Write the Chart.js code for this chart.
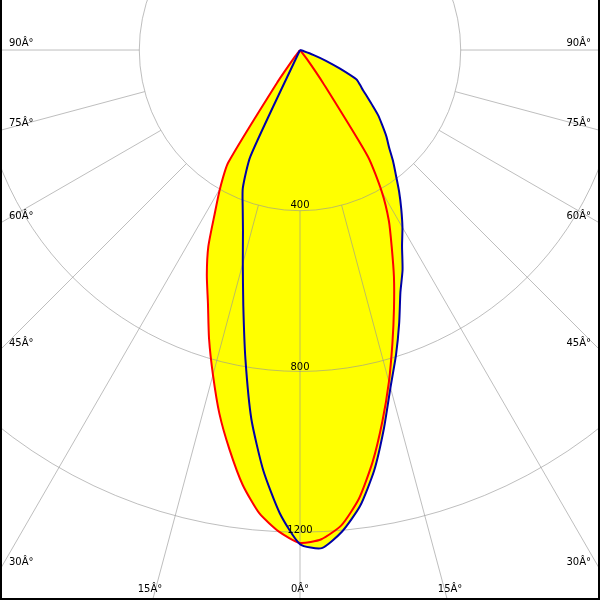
<!DOCTYPE html>
<html><head><meta charset="utf-8">
<script src="https://cdn.jsdelivr.net/npm/chart.js@4/dist/chart.umd.min.js"></script>
<style>html,body{margin:0;padding:0;background:#fff;}canvas{display:block;}</style>
</head><body><canvas id="c" width="600" height="600"></canvas>
<script>
// gamma angles (degrees) shared by all half-planes
const gammaAngles = [0,2.5,5,7.5,10,12.5,15,17.5,20,22.5,25,27.5,30,32.5,35,37.5,40,42.5,45,47.5,50,52.5,55,57.5,60,62.5,65,67.5,70,72.5,75,77.5,80,82.5,85,87.5,90];
// red curve (C180 left half, C0 right half), cd/klm
const redLeft  = [1227,1200,1158,1092,1010,927,837,753,670,606,540,460,398,333,100,20,0,0,0,0,0,0,0,0,0,0,0,0,0,0,0,0,0,0,0,0,0];
const redRight = [1227,1219,1187,1126,1041,947,855,765,684,611,540,479,407,315,100,30,0,0,0,0,0,0,0,0,0,0,0,0,0,0,0,0,0,0,0,0,0];
// blue curve (C270 left half, C90 right half)
const blueLeft  = [1230,1154,1050,927,782,652,550,472,417,372,292,0,0,0,0,0,0,0,0,0,0,0,0,0,0,0,0,0,0,0,0,0,0,0,0,0,0];
const blueRight = [1230,1241,1203,1145,1063,965,870,795,722,653,604,550,510,469,430,392,360,328,304,278,255,228,205,186,172,158,110,70,35,10,0,0,0,0,0,0,0];
// grid
const ringValues = [400, 800, 1200];
const ringLabels = ['400', '800', '1200'];
const spokeAngles = [0, 15, 30, 45, 60, 75, 90];
const spokeLabels = ['0Â°', '15Â°', '30Â°', '45Â°', '60Â°', '75Â°', '90Â°'];

function polarPoints(leftVals, rightVals) {
  const pts = [];
  for (let i = gammaAngles.length - 1; i >= 0; i--) {
    const g = gammaAngles[i] * Math.PI / 180;
    pts.push({x: -leftVals[i] * Math.sin(g), y: -leftVals[i] * Math.cos(g)});
  }
  for (let i = 1; i < gammaAngles.length; i++) {
    const g = gammaAngles[i] * Math.PI / 180;
    pts.push({x: rightVals[i] * Math.sin(g), y: -rightVals[i] * Math.cos(g)});
  }
  return pts;
}

const FONT = '10px "DejaVu Sans", sans-serif';

const polarGrid = {
  id: 'polarGrid',
  beforeDraw(chart) {
    const c = chart.ctx;
    c.save(); c.fillStyle = '#ffffff'; c.fillRect(0, 0, chart.width, chart.height); c.restore();
  },
  beforeDatasetsDraw(chart) {
    const c = chart.ctx, xs = chart.scales.x, ys = chart.scales.y, a = chart.chartArea;
    c.save();
    c.beginPath(); c.rect(a.left, a.top, a.right - a.left, a.bottom - a.top); c.clip();
    // yellow fill of both curves, following the library's own spline control points
    c.fillStyle = '#ffff00';
    chart.data.datasets.forEach((ds, i) => {
      const pts = chart.getDatasetMeta(i).data;
      c.beginPath();
      pts.forEach((p, k) => {
        if (!k) { c.moveTo(p.x, p.y); return; }
        const q = pts[k - 1];
        if (q.cp2x !== undefined && p.cp1x !== undefined) c.bezierCurveTo(q.cp2x, q.cp2y, p.cp1x, p.cp1y, p.x, p.y);
        else c.lineTo(p.x, p.y);
      });
      c.closePath(); c.fill();
    });
    // grid
    const cx = xs.getPixelForValue(0), cy = ys.getPixelForValue(0);
    const pr = v => xs.getPixelForValue(v) - cx;
    c.strokeStyle = 'rgba(150,150,150,0.62)';
    c.lineWidth = 1;
    ringValues.forEach(v => {
      c.beginPath(); c.arc(cx, cy, pr(v), 0, Math.PI * 2); c.stroke();
    });
    const r0 = pr(ringValues[0]);
    spokeAngles.forEach(deg => {
      [-1, 1].forEach(side => {
        if (deg === 0 && side === 1) return;
        const g = deg * Math.PI / 180;
        const dx = side * Math.sin(g), dy = Math.cos(g);
        c.beginPath();
        c.moveTo(cx + dx * r0, cy + dy * r0);
        c.lineTo(cx + dx * 2000, cy + dy * 2000);
        c.stroke();
      });
    });
    c.restore();
  },
  afterDatasetsDraw(chart) {
    const c = chart.ctx, xs = chart.scales.x, ys = chart.scales.y;
    const W = chart.width, H = chart.height;
    const cx = xs.getPixelForValue(0), cy = ys.getPixelForValue(0);
    c.save();
    c.font = FONT; c.fillStyle = '#000000';
    // ring labels
    c.textAlign = 'center'; c.textBaseline = 'alphabetic';
    ringValues.forEach((v, i) => {
      const y = ys.getPixelForValue(-v);
      c.fillText(ringLabels[i], cx, y - 2.5 + i * 1.5);
    });
    // angle labels
    spokeAngles.forEach((deg, i) => {
      const g = deg * Math.PI / 180;
      [-1, 1].forEach(side => {
        if (deg === 0 && side === 1) return;
        const s = Math.sin(g), co = Math.cos(g);
        const ySide = s > 0 ? cy + (W / 2) * co / s : Infinity;
        if (ySide <= H) {
          c.textAlign = side < 0 ? 'left' : 'right';
          c.fillText(spokeLabels[i], side < 0 ? 9 : W - 9, ySide - 4.5);
        } else {
          c.textAlign = 'center';
          const x = cx + side * (H - cy + 10) * Math.tan(g);
          c.fillText(spokeLabels[i], x, H - 8);
        }
      });
    });
    // frame
    c.fillStyle = '#000000';
    c.fillRect(0, 0, 2, H);
    c.fillRect(W - 2, 0, 2, H);
    c.fillRect(0, H - 2, W, 2);
    c.restore();
  }
};

new Chart(document.getElementById('c').getContext('2d'), {
  type: 'scatter',
  data: {
    datasets: [
      {label: 'C90-C270', data: polarPoints(blueLeft, blueRight), showLine: true, borderColor: '#0000a8',
       borderWidth: 2, pointRadius: 0, fill: false, tension: 0.2, borderJoinStyle: 'round'},
      {label: 'C0-C180', data: polarPoints(redLeft, redRight), showLine: true, borderColor: '#ff0000',
       borderWidth: 2, pointRadius: 0, fill: false, tension: 0.2, borderJoinStyle: 'round'}
    ]
  },
  options: {
    responsive: false, animation: false, devicePixelRatio: 1, events: [],
    layout: {padding: 0},
    plugins: {legend: {display: false}, tooltip: {enabled: false}},
    scales: {
      x: {type: 'linear', display: false, min: -746.7, max: 746.7},
      y: {type: 'linear', display: false, min: -1369, max: 124.5}
    }
  },
  plugins: [polarGrid]
});
</script></body></html>
